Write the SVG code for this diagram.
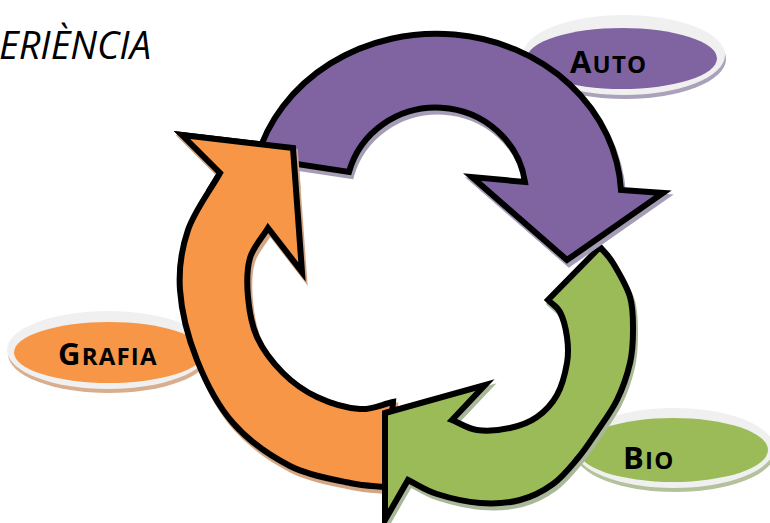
<svg xmlns="http://www.w3.org/2000/svg" width="770" height="523" viewBox="0 0 770 523">
<defs>
<style>
.lbl{font-family:"Open Sans","Liberation Sans",sans-serif;font-weight:bold;fill:#000;letter-spacing:1.2px}
.big{font-size:31px}
.sm{font-size:24px}
.rim{fill:#f0f0f0}
.body{stroke:#000;stroke-width:6;stroke-linejoin:miter;stroke-miterlimit:10}
.shadow{stroke-width:6;stroke-linejoin:miter;stroke-miterlimit:10}
</style>
<path id="pOrange" d="M293,148 L182,135 L220,173 C209.3,192 194.7,210.5 188,230 C181.3,249.5 178.5,268.3 180,290 C181.5,311.7 188.2,337.8 197,360 C205.8,382.2 217.5,405.3 233,423 C248.5,440.7 270.5,456 290,466 C309.5,476 334,479.5 350,483 C366,486.5 374,485.7 386,487 L393,402 C382,404.3 372.7,409.8 360,409 C347.3,408.2 329.8,403 317,397 C304.2,391 293,383 283,373 C273,363 262.8,349.7 257,337 C251.2,324.3 249.2,310.2 248,297 C246.8,283.8 246.7,269.5 250,258 C253.3,246.5 262,238 268,228 L302,272 Z"/>
<path id="pGreen" d="M385,413 L485,385 L452,420 C460.3,423.3 467.3,428.7 477,430 C486.7,431.3 500,430.2 510,428 C520,425.8 529.2,422.5 537,417 C544.8,411.5 552,404 557,395 C562,386 565.3,372.7 567,363 C568.7,353.3 568.2,345.5 567,337 C565.8,328.5 563.2,318.2 560,312 C556.8,305.8 552,304 548,300 L600,247 C604.3,252.3 608,254.7 613,263 C618,271.3 626.7,285.8 630,297 C633.3,308.2 633,319 633,330 C633,341 632.7,351.3 630,363 C627.3,374.7 622.7,388.3 617,400 C611.3,411.7 602.5,423.3 596,433 C589.5,442.7 585.2,449.5 578,458 C570.8,466.5 562.7,477 553,484 C543.3,491 532.2,496.8 520,500 C507.8,503.2 493.8,504 480,503 C466.2,502 449,497.8 437,494 C425,490.2 417.7,484.7 408,480 L385,520 Z"/>
<path id="pPurple" d="M257,158 A185,165 0 0 1 621,190 L663,193 L567,260 L472,177 L525,182 A90,87 0 0 0 349,172 Z"/>
<g id="orangeArrow">
<use href="#pOrange" class="shadow" transform="translate(2,4)" fill="#d3a685" stroke="#d3a685"/>
<use href="#pOrange" class="body" fill="#f79646"/>
</g>
<clipPath id="headClip"><rect x="160" y="110" width="175" height="80"/></clipPath>
</defs>

<text x="-1" y="59" font-family="'Open Sans','Liberation Sans',sans-serif" font-style="italic" font-size="38" fill="#000">ERIÈNCIA</text>

<g id="node-auto">
<ellipse cx="625" cy="59" rx="101" ry="40" fill="#aaa2ba"/>
<ellipse cx="624" cy="55" rx="101" ry="40" class="rim"/>
<ellipse cx="622" cy="58.5" rx="95" ry="30.5" fill="#8064a2"/>
<text class="lbl" x="570" y="73"><tspan class="big">A</tspan><tspan class="sm">UTO</tspan></text>
</g>

<g id="node-grafia">
<ellipse cx="109" cy="354" rx="101" ry="39" fill="#d9ae8f"/>
<ellipse cx="108" cy="350" rx="101" ry="39" class="rim"/>
<ellipse cx="109" cy="352.5" rx="95" ry="30.5" fill="#f79646"/>
<text class="lbl" x="58" y="365"><tspan class="big">G</tspan><tspan class="sm">RAFIA</tspan></text>
</g>

<g id="node-bio">
<ellipse cx="675" cy="452" rx="100" ry="40" fill="#b3c29a"/>
<ellipse cx="674" cy="448" rx="100" ry="40" class="rim"/>
<ellipse cx="673" cy="450" rx="95" ry="32" fill="#9bbb59"/>
<text class="lbl" x="623" y="469"><tspan class="big">B</tspan><tspan class="sm">IO</tspan></text>
</g>

<g id="connectors">
<use href="#orangeArrow"/>
<g id="arrow-bio">
<use href="#pGreen" class="shadow" transform="translate(2,4)" fill="#a9b898" stroke="#a9b898"/>
<use href="#pGreen" class="body" fill="#9bbb59"/>
</g>
<g id="arrow-auto">
<use href="#pPurple" class="shadow" transform="translate(2,4)" fill="#a59db5" stroke="#a59db5"/>
<use href="#pPurple" class="body" fill="#8064a2"/>
</g>
<use href="#orangeArrow" clip-path="url(#headClip)"/>
</g>
</svg>
